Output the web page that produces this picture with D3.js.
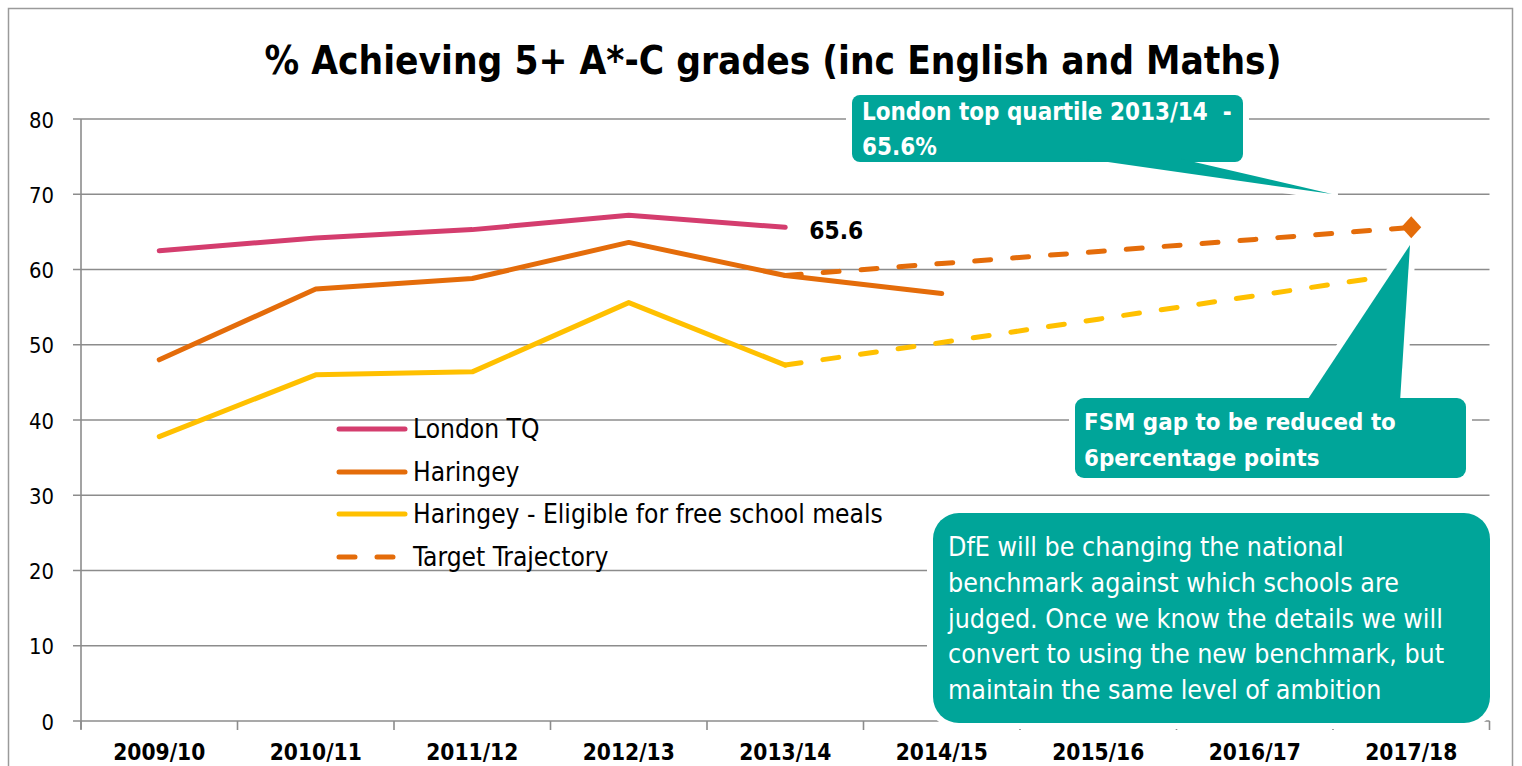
<!DOCTYPE html>
<html><head><meta charset="utf-8">
<script src="https://cdn.jsdelivr.net/npm/d3@7"></script>
<style>
body{margin:0;background:#fff}
svg{display:block}
text{font-family:"Liberation Sans Narrow","DejaVu Sans Condensed","Liberation Sans",sans-serif;white-space:pre}
</style>
</head><body>
<svg id="c" width="1522" height="766"></svg>
<script>
// ---- data ----
const categories = ["2009/10","2010/11","2011/12","2012/13","2013/14","2014/15","2015/16","2016/17","2017/18"];
const londonTQ = [62.5, 64.2, 65.3, 67.2, 65.6];
const haringey = [48.0, 57.4, 58.8, 63.6, 59.2, 56.8];
const haringeyFSM = [37.8, 46.0, 46.4, 55.6, 47.3];
const targetCategories = ["2013/14","2014/15","2015/16","2016/17","2017/18"];
const targetTrajectory = [59.2, 60.8, 62.4, 64.0, 65.6];
const fsmTrajectory = [47.3, 50.3, 53.4, 56.5, 59.6];
const yTicks = [0, 10, 20, 30, 40, 50, 60, 70, 80];
const legendNames = ["London TQ","Haringey","Haringey - Eligible for free school meals","Target Trajectory"];
const titleText = "% Achieving 5+ A*-C grades (inc English and Maths)";
const dataLabelText = "65.6";
const calloutLondon = ["London top quartile 2013/14  -","65.6%"];
const calloutFSM = ["FSM gap to be reduced to","6percentage points"];
const calloutDfE = ["DfE will be changing the national","benchmark against which schools are","judged. Once we know the details we will","convert to using the new benchmark, but","maintain the same level of ambition"];

// ---- styles ----
const C = {pink:"#D43D6E", orange:"#E46C0A", yellow:"#FFC000", teal:"#00A599", grid:"#8C8C8C"};

const svg = d3.select("#c");
const x = d3.scaleBand().domain(categories).range([81, 1489.5]);
const y = d3.scaleLinear().domain([0, 80]).range([721, 119]);
const cx = c => x(c) + x.bandwidth()/2;

function fit(sel, w){
  const n = sel.node(); const fs = parseFloat(sel.attr("font-size"));
  const l = n.getComputedTextLength();
  return fs * w / l;
}

// outer border
svg.append("rect").attr("x",8.5).attr("y",8.5).attr("width",1504).attr("height",820)
  .attr("fill","none").attr("stroke","#9a9a9a").attr("stroke-width",1.5);

// title
const t = svg.append("text").attr("x",773).attr("y",74).attr("text-anchor","middle")
  .attr("font-weight","bold").attr("font-size",40).text(titleText);
t.attr("font-size", fit(t, 1017));

// gridlines
svg.append("g").selectAll("line").data(yTicks).join("line")
  .attr("x1",73).attr("x2",1489.5).attr("y1",d=>y(d)).attr("y2",d=>y(d))
  .attr("stroke",C.grid).attr("stroke-width",1.6);
// y axis line
svg.append("line").attr("x1",81).attr("x2",81).attr("y1",y(80)).attr("y2",y(0)+8)
  .attr("stroke",C.grid).attr("stroke-width",1.6);
// x ticks at band boundaries
const bounds = categories.map(c=>x(c)).concat([x.range()[1]]);
svg.append("g").selectAll("line").data(bounds).join("line")
  .attr("x1",d=>d).attr("x2",d=>d).attr("y1",y(0)).attr("y2",y(0)+9)
  .attr("stroke",C.grid).attr("stroke-width",1.6);

// y labels
const yl = svg.append("g").selectAll("text").data(yTicks).join("text")
  .attr("x",54).attr("text-anchor","end").attr("font-size",24).text(d=>d);
const yfs = fit(d3.select(yl.nodes()[8]), 25);
yl.attr("font-size",yfs).attr("y",d=>y(d)+8.5);

// x labels
const xl = svg.append("g").selectAll("text").data(categories).join("text")
  .attr("x",d=>cx(d)).attr("y",760).attr("text-anchor","middle")
  .attr("font-weight","bold").attr("font-size",24).text(d=>d);
const xfs = fit(d3.select(xl.nodes()[0]), 92);
xl.attr("font-size",xfs);

// lines
const line = d3.line().x(d=>cx(d.c)).y(d=>y(d.v));
const mk = (cats, vals) => vals.map((v,i)=>({c:cats[i], v}));
function drawLine(data, color, dash){
  const p = svg.append("path").datum(data).attr("d",line).attr("fill","none")
    .attr("stroke",color).attr("stroke-width",5).attr("stroke-linejoin","round").attr("stroke-linecap","round");
  if(dash) p.attr("stroke-dasharray","16,22");
}
drawLine(mk(targetCategories, fsmTrajectory), C.yellow, true);
drawLine(mk(targetCategories, targetTrajectory), C.orange, true);
drawLine(mk(categories, haringeyFSM), C.yellow);
drawLine(mk(categories, haringey), C.orange);
drawLine(mk(categories, londonTQ), C.pink);

// data label
const dl = svg.append("text").attr("x",cx("2013/14")+24).attr("y",239).attr("font-weight","bold")
  .attr("font-size",26).text(dataLabelText);
dl.attr("font-size", fit(dl, 54));

// legend
const legColors = [C.pink, C.orange, C.yellow, C.orange];
const legY = [429, 472, 514, 557];
const lg = svg.append("g");
legendNames.forEach((n,i)=>{
  const l = lg.append("line").attr("x1",339).attr("x2",405).attr("y1",legY[i]).attr("y2",legY[i])
    .attr("stroke",legColors[i]).attr("stroke-width",5).attr("stroke-linecap","round");
  if(i===3) l.attr("x1",339).attr("x2",398).attr("stroke-dasharray","16,22");
});
const lt = lg.selectAll("text").data(legendNames).join("text")
  .attr("x",413).attr("y",(d,i)=>legY[i]+9).attr("font-size",28).text(d=>d);
const lfs = fit(d3.select(lt.nodes()[2]), 470);
lt.attr("font-size", lfs);

// callouts
function callout(box, r, ptr, lines, tx, ty0, dy, bold, widest, wWidth){
  const g = svg.append("g");
  const pts = ptr.map(p=>p.join(",")).join(" ");
  g.append("rect").attr("x",box[0]).attr("y",box[1]).attr("width",box[2]-box[0]).attr("height",box[3]-box[1])
    .attr("rx",r).attr("fill",C.teal).attr("stroke","#fff").attr("stroke-width",12);
  g.append("polygon").attr("points",pts).attr("fill",C.teal).attr("stroke","#fff").attr("stroke-width",12).attr("stroke-linejoin","round");
  g.append("rect").attr("x",box[0]).attr("y",box[1]).attr("width",box[2]-box[0]).attr("height",box[3]-box[1])
    .attr("rx",r).attr("fill",C.teal);
  g.append("polygon").attr("points",pts).attr("fill",C.teal);
  const tt = g.selectAll("text").data(lines).join("text").attr("x",tx).attr("y",(d,i)=>ty0+i*dy)
    .attr("fill","#fff").attr("font-weight",bold?"bold":"normal").attr("font-size",24).text(d=>d);
  const fs = fit(d3.select(tt.nodes()[widest]), wWidth);
  tt.attr("font-size",fs);
}
callout([852,95,1243,162], 8, [[1080,158],[1332,194],[1177,158]], calloutLondon, 862, 120, 35, true, 0, 370);
callout([1075,398,1466,478], 9, [[1306,402],[1410,245],[1400,402]], calloutFSM, 1084, 430, 36, true, 0, 312);
callout([933,513,1490,723], 26, [[1000,520],[1000,520],[1000,520]], calloutDfE, 948, 556, 35.8, false, 2, 495);

// diamond marker at target end
const dx = cx("2017/18"), dy = y(targetTrajectory[4]);
svg.append("polygon").attr("points",[[dx,dy-11],[dx+10,dy],[dx,dy+11],[dx-10,dy]].map(p=>p.join(",")).join(" "))
  .attr("fill",C.orange);
</script>
</body></html>
